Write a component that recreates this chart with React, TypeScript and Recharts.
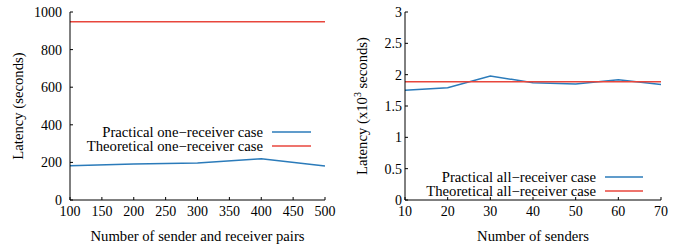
import React from 'react';
import { LineChart, Line, XAxis, YAxis, Legend } from 'recharts';

const pairs = [100, 200, 300, 400, 500];
const practicalOne = [182, 191, 197, 220, 181];
const theoreticalOne = 948;

const senders = [10, 20, 30, 40, 50, 60, 70];
const practicalAll = [1.75, 1.79, 1.98, 1.87, 1.85, 1.92, 1.845];
const theoreticalAll = 1.887;

const leftXTicks = [100, 150, 200, 250, 300, 350, 400, 450, 500];
const leftYTicks = [0, 200, 400, 600, 800, 1000];
const rightXTicks = [10, 20, 30, 40, 50, 60, 70];
const rightYTicks = [0, 0.5, 1, 1.5, 2, 2.5, 3];

const BLUE = '#2b7bba';
const RED = '#e8463c';
const FONT = '"Liberation Serif", "Times New Roman", serif';
const FS = 14;
const LFS = 14.7;

const leftData = pairs.map((x, i) => ({ x, practical: practicalOne[i], theoretical: theoreticalOne }));
const rightData = senders.map((x, i) => ({ x, practical: practicalAll[i], theoretical: theoreticalAll }));

const tickStyle = { fill: '#000', fontSize: FS, fontFamily: FONT };

function makeLegend(textRight: number, lineX1: number, lineX2: number, rowY: number[], width: number) {
  return (props: any) => {
    const payload = props.payload || [];
    return (
      <div style={{ position: 'relative', width, height: 249, fontFamily: FONT, fontSize: LFS }}>
        {payload.map((p: any, i: number) => (
          <React.Fragment key={i}>
            <span
              style={{
                position: 'absolute',
                right: width - textRight,
                top: rowY[i] - 7,
                lineHeight: '14px',
                height: 14,
                whiteSpace: 'nowrap',
                color: '#000',
              }}
            >
              {p.value}
            </span>
            <svg
              style={{ position: 'absolute', left: lineX1, top: rowY[i] - 2 }}
              width={lineX2 - lineX1}
              height={4}
            >
              <line x1={0} x2={lineX2 - lineX1} y1={2} y2={2} stroke={p.color} strokeWidth={1.5} />
            </svg>
          </React.Fragment>
        ))}
      </div>
    );
  };
}

const XLabel = (text: string) => (props: any) => {
  const vb = props.viewBox;
  return (
    <text x={vb.x + vb.width / 2} y={vb.y + 41} textAnchor="middle" fontSize={LFS} fontFamily={FONT} fill="#000">
      {text}
    </text>
  );
};

const YLabelLeft = (props: any) => {
  const vb = props.viewBox;
  const cy = vb.y + vb.height / 2;
  return (
    <text
      x={18}
      y={cy}
      transform={`rotate(-90, 18, ${cy})`}
      textAnchor="middle"
      dominantBaseline="central"
      fontSize={LFS}
      fontFamily={FONT}
      fill="#000"
    >
      Latency (seconds)
    </text>
  );
};

const YLabelRight = (props: any) => {
  const vb = props.viewBox;
  const cy = vb.y + vb.height / 2;
  return (
    <text
      x={22}
      y={cy}
      transform={`rotate(-90, 22, ${cy})`}
      textAnchor="middle"
      dominantBaseline="central"
      fontSize={LFS}
      fontFamily={FONT}
      fill="#000"
    >
      Latency (x10
      <tspan dy={-5} fontSize={10}>3</tspan>
      <tspan dy={5}> seconds)</tspan>
    </text>
  );
};

const blank = () => '';

export default function App() {
  return (
    <div style={{ position: 'absolute', left: 0, top: 0, width: 683, height: 249, display: 'flex', background: '#fff' }}>
      <LineChart width={340} height={249} data={leftData} margin={{ top: 12, right: 15, bottom: 0, left: 0 }}>
        <XAxis
          dataKey="x"
          type="number"
          domain={[100, 500]}
          ticks={leftXTicks}
          interval={0}
          height={49}
          tickSize={-3}
          tickMargin={9}
          stroke="#000"
          tick={tickStyle}
          label={XLabel('Number of sender and receiver pairs')}
        />
        <XAxis
          xAxisId="top"
          orientation="top"
          dataKey="x"
          type="number"
          domain={[100, 500]}
          ticks={leftXTicks}
          interval={0}
          height={0}
          tickSize={-3}
          stroke="#000"
          tickFormatter={blank}
        />
        <YAxis
          type="number"
          domain={[0, 1000]}
          ticks={leftYTicks}
          interval={0}
          width={70}
          tickSize={-3}
          tickMargin={11}
          stroke="#000"
          tick={tickStyle}
          label={YLabelLeft}
        />
        <YAxis
          yAxisId="r"
          orientation="right"
          type="number"
          domain={[0, 1000]}
          ticks={leftYTicks}
          interval={0}
          width={0}
          tickSize={-3}
          stroke="#000"
          tickFormatter={blank}
        />
        <Legend
          layout="horizontal"
          verticalAlign="middle"
          align="center"
          wrapperStyle={{ left: 0, top: 0, width: 340, height: 249 }}
          content={makeLegend(263, 272, 311, [132, 146], 340)}
        />
        <Line type="linear" dataKey="practical" name="Practical one−receiver case" stroke={BLUE} strokeWidth={1.5} dot={false} isAnimationActive={false} />
        <Line type="linear" dataKey="theoretical" name="Theoretical one−receiver case" stroke={RED} strokeWidth={1.5} dot={false} isAnimationActive={false} />
      </LineChart>
      <LineChart width={343} height={249} data={rightData} margin={{ top: 12, right: 22, bottom: 0, left: 0 }}>
        <XAxis
          dataKey="x"
          type="number"
          domain={[10, 70]}
          ticks={rightXTicks}
          interval={0}
          height={49}
          tickSize={-3}
          tickMargin={9}
          stroke="#000"
          tick={tickStyle}
          label={XLabel('Number of senders')}
        />
        <XAxis
          xAxisId="top"
          orientation="top"
          dataKey="x"
          type="number"
          domain={[10, 70]}
          ticks={rightXTicks}
          interval={0}
          height={0}
          tickSize={-3}
          stroke="#000"
          tickFormatter={blank}
        />
        <YAxis
          type="number"
          domain={[0, 3]}
          ticks={rightYTicks}
          interval={0}
          width={65}
          tickSize={-3}
          tickMargin={6}
          stroke="#000"
          tick={tickStyle}
          label={YLabelRight}
        />
        <YAxis
          yAxisId="r"
          orientation="right"
          type="number"
          domain={[0, 3]}
          ticks={rightYTicks}
          interval={0}
          width={0}
          tickSize={-3}
          stroke="#000"
          tickFormatter={blank}
        />
        <Legend
          layout="horizontal"
          verticalAlign="middle"
          align="center"
          wrapperStyle={{ left: 0, top: 0, width: 343, height: 249 }}
          content={makeLegend(256, 265, 303, [177, 191], 343)}
        />
        <Line type="linear" dataKey="practical" name="Practical all−receiver case" stroke={BLUE} strokeWidth={1.5} dot={false} isAnimationActive={false} />
        <Line type="linear" dataKey="theoretical" name="Theoretical all−receiver case" stroke={RED} strokeWidth={1.5} dot={false} isAnimationActive={false} />
      </LineChart>
    </div>
  );
}
